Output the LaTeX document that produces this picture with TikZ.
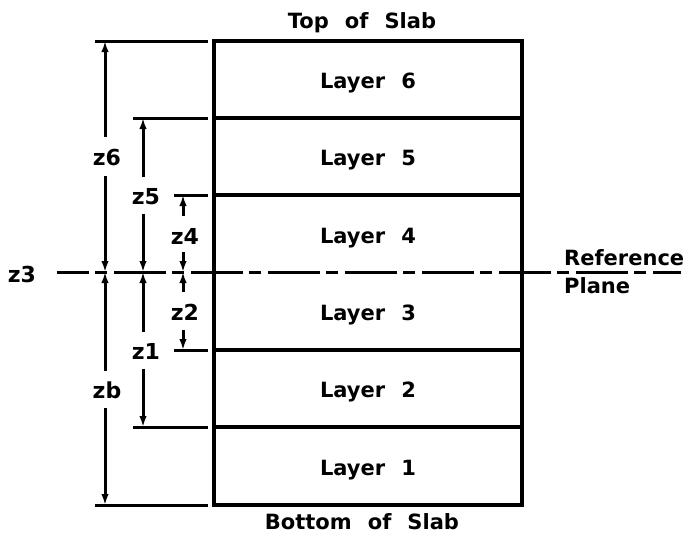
\documentclass[tikz,border=0pt]{standalone}
\usepackage{fontspec}
\setmainfont{DejaVu Sans}[WordSpace=2.2]
\usetikzlibrary{arrows.meta}
\begin{document}
\begin{tikzpicture}[x=1pt,y=-1pt,
  slab/.style={line width=3.2pt},
  ext/.style={line width=3pt},
  dim/.style={line width=3pt,-{Latex[length=11pt,width=7.5pt]}},
  lbl/.style={font=\fontsize{21}{24}\selectfont\bfseries,inner sep=0pt,anchor=base},
  zl/.style={font=\fontsize{22}{24}\selectfont\bfseries,inner sep=0pt},
  refl/.style={line width=3pt,dash pattern=on 52pt off 6pt on 12pt off 7pt,dash phase=20pt}]
\useasboundingbox (0,0) rectangle (688,542);
% slab
\draw[slab] (214,41) rectangle (522,505);
\foreach \yy in {118,195,350,427}{\draw[slab] (214,\yy) -- (522,\yy);}
% layer labels
\node[lbl] (L6) at (368,88) {Layer 6};
\node[lbl] (L5) at (368,165) {Layer 5};
\node[lbl] (L4) at (368,243) {Layer 4};
\node[lbl] (L3) at (368,320) {Layer 3};
\node[lbl] (L2) at (368,397) {Layer 2};
\node[lbl] (L1) at (368,475) {Layer 1};
\node[lbl] (top) at (362,28) {Top of Slab};
\node[lbl] (bot) at (362,529) {Bottom of Slab};
\node[lbl,anchor=base west] (ref) at (564,265) {Reference};
\node[lbl,anchor=base west] (pl) at (564,293) {Plane};
% extension lines
\coordinate (e1a) at (95,41);  \coordinate (e1b) at (208,41);
\coordinate (e2a) at (133,118); \coordinate (e2b) at (208,118);
\coordinate (e3a) at (174,195); \coordinate (e3b) at (208,195);
\coordinate (e4a) at (174,350); \coordinate (e4b) at (208,350);
\coordinate (e5a) at (133,427); \coordinate (e5b) at (208,427);
\coordinate (e6a) at (95,505);  \coordinate (e6b) at (208,505);
\foreach \i in {1,...,6}{\draw[ext] (e\i a) -- (e\i b);}
% reference plane
\node[zl] (z3) at (22,274) {z3};
\coordinate (rpa) at (57,272);
\coordinate (rpb) at (681,272);
\draw[refl] (rpa) -- (rpb);
% dimension z6 / zb
\node[zl] (z6) at (107,157) {z6};
\node[zl] (zb) at (107,390) {zb};
\coordinate (p6) at (105,272);
\coordinate (t6) at (105,41); \coordinate (b6) at (105,505);
\coordinate (s6a) at (105,137); \coordinate (s6b) at (105,176);
\coordinate (sba) at (105,371); \coordinate (sbb) at (105,408);
\draw[dim] (s6a) -- (t6);
\draw[dim] (s6b) -- (p6);
\draw[dim] (sba) -- (p6);
\draw[dim] (sbb) -- (b6);
% dimension z5 / z1
\node[zl] (z5) at (146,197) {z5};
\node[zl] (z1) at (146,351) {z1};
\coordinate (p5) at (143,272);
\coordinate (t5) at (143,118); \coordinate (b5) at (143,427);
\coordinate (s5a) at (143,177); \coordinate (s5b) at (143,214);
\coordinate (s1a) at (143,332); \coordinate (s1b) at (143,369);
\draw[dim] (s5a) -- (t5);
\draw[dim] (s5b) -- (p5);
\draw[dim] (s1a) -- (p5);
\draw[dim] (s1b) -- (b5);
% dimension z4 / z2
\node[zl] (z4) at (185,236) {z4};
\node[zl] (z2) at (185,312) {z2};
\coordinate (p4) at (183,272);
\coordinate (t4) at (183,195); \coordinate (b4) at (183,350);
\coordinate (s4a) at (183,216); \coordinate (s4b) at (183,252);
\coordinate (s2a) at (183,292); \coordinate (s2b) at (183,330);
\draw[dim] (s4a) -- (t4);
\draw[dim] (s4b) -- (p4);
\draw[dim] (s2a) -- (p4);
\draw[dim] (s2b) -- (b4);
\end{tikzpicture}
\end{document}
